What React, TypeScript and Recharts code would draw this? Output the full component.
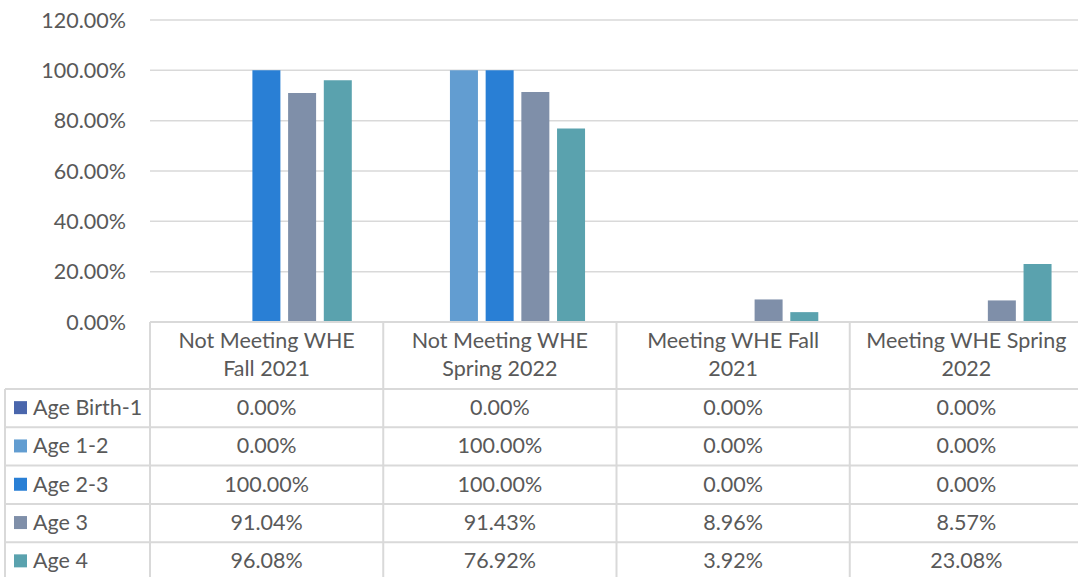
import React from 'react';
import { BarChart, Bar, XAxis, YAxis, CartesianGrid, Customized } from 'recharts';

const categories = [
  ['Not Meeting WHE', 'Fall 2021'],
  ['Not Meeting WHE', 'Spring 2022'],
  ['Meeting WHE Fall', '2021'],
  ['Meeting WHE Spring', '2022'],
];
const seriesNames = ['Age Birth-1', 'Age 1-2', 'Age 2-3', 'Age 3', 'Age 4'];
const seriesColors = ['#4A66AC', '#629DD1', '#297FD5', '#7F8FA9', '#5AA2AE'];
const ageBirth1 = [0, 0, 0, 0];
const age1to2 = [0, 100, 0, 0];
const age2to3 = [100, 100, 0, 0];
const age3 = [91.04, 91.43, 8.96, 8.57];
const age4 = [96.08, 76.92, 3.92, 23.08];
const yTicks = [0, 20, 40, 60, 80, 100, 120];

const seriesValues = [ageBirth1, age1to2, age2to3, age3, age4];
const keys = ['s0', 's1', 's2', 's3', 's4'];
const data = categories.map((c, i) => {
  const row: any = { name: String(i) };
  keys.forEach((k, j) => (row[k] = seriesValues[j][i]));
  return row;
});

const W = 1083;
const H = 577;
const LEFT = 150;
const TOP = 20;
const PLOT_BOTTOM = 322;
const HEADER_BOTTOM = 389;
const ROW_H = 38.3;
const COL_W = (W - LEFT) / categories.length;
const FONT = 'Lato, "Open Sans", sans-serif';
const TXT = '#595959';
const LINE = '#D9D9D9';
const FS = 21.5;

const fmt = (v: number) => v.toFixed(2) + '%';

const ColumnTick = (props: any) => {
  const { x, payload } = props;
  const i = Number(payload.value);
  const lines = categories[i];
  return (
    <g>
      <line x1={x - COL_W / 2} x2={x - COL_W / 2} y1={PLOT_BOTTOM} y2={H} stroke={LINE} strokeWidth={2} />
      {lines.map((t, k) => (
        <text key={k} x={x} y={340 + k * 28} textAnchor="middle" dominantBaseline="central"
          fontFamily={FONT} fontSize={FS} fill={TXT}>{t}</text>
      ))}
      {seriesValues.map((vals, r) => (
        <text key={'v' + r} x={x} y={HEADER_BOTTOM + ROW_H * (r + 0.5) - 1} textAnchor="middle"
          dominantBaseline="central" fontFamily={FONT} fontSize={FS} fill={TXT}>{fmt(vals[i])}</text>
      ))}
    </g>
  );
};

const TableFrame = () => (
  <g>
    {seriesNames.map((_, r) => (
      <line key={'h' + r} x1={5} x2={W} y1={HEADER_BOTTOM + ROW_H * r} y2={HEADER_BOTTOM + ROW_H * r}
        stroke={LINE} strokeWidth={2} />
    ))}
    <line x1={5} x2={5} y1={HEADER_BOTTOM} y2={H} stroke={LINE} strokeWidth={2} />
    {seriesNames.map((name, r) => (
      <g key={'l' + r}>
        <rect x={14} y={HEADER_BOTTOM + ROW_H * (r + 0.5) - 7} width={13} height={13} fill={seriesColors[r]} />
        <text x={33} y={HEADER_BOTTOM + ROW_H * (r + 0.5) - 1} dominantBaseline="central"
          fontFamily={FONT} fontSize={FS} fill={TXT}>{name}</text>
      </g>
    ))}
  </g>
);

export default function App() {
  return (
    <div style={{ position: 'absolute', left: 0, top: 0, width: 1078, height: H, overflow: 'hidden', background: '#fff' }}>
      <BarChart width={W} height={H} data={data} margin={{ top: TOP, right: 0, bottom: 0, left: 0 }}
        barSize={28} barGap={7.7}>
        <CartesianGrid vertical={false} stroke={LINE} strokeWidth={1.5} />
        <YAxis domain={[0, 120]} ticks={yTicks} width={LEFT} axisLine={false} tickLine={false}
          tickSize={0} tickMargin={24} tickFormatter={fmt}
          tick={{ fontFamily: FONT, fontSize: FS, fill: TXT }} />
        <XAxis dataKey="name" height={H - PLOT_BOTTOM} axisLine={{ stroke: LINE, strokeWidth: 2 }}
          tickLine={false} tick={<ColumnTick />} interval={0} />
        {keys.map((k, j) => (
          <Bar key={k} dataKey={k} fill={seriesColors[j]} isAnimationActive={false} />
        ))}
        <Customized component={TableFrame} />
      </BarChart>
    </div>
  );
}
